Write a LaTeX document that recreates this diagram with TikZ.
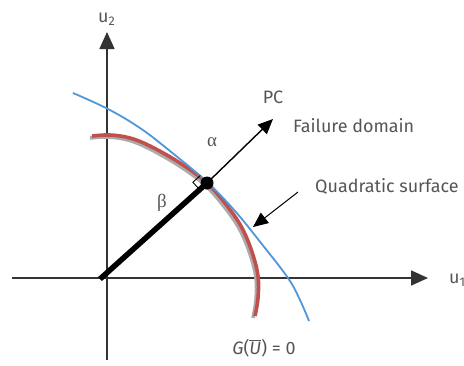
\documentclass[tikz,border=0pt]{standalone}
\usepackage{fontspec}
\setmainfont{Fira Sans}
\newfontfamily\greekfont{Liberation Serif}
\usetikzlibrary{arrows.meta, positioning, calc}
\definecolor{axisgray}{HTML}{333333}
\definecolor{textgray}{HTML}{555555}
\definecolor{limitblue}{HTML}{5096D8}
\definecolor{quadred}{HTML}{C0504D}
\definecolor{shadowgray}{HTML}{ABABAB}
\tikzset{
  axis/.style={draw=axisgray, line width=1.6bp, -{Triangle[length=17bp,width=15bp]}},
  lbl/.style={text=textgray, font=\fontsize{18}{21}\selectfont, inner sep=0pt},
  greek/.style={text=textgray, font=\greekfont\fontsize{19}{22}\selectfont, inner sep=0pt},
  pointer/.style={draw=black, line width=1.4bp, -{Triangle[length=15bp,width=13bp]}},
  limitcurve/.style={draw=limitblue, line width=1.8bp},
  quadcurve/.style={draw=quadred, line width=3.6bp},
  shadowcurve/.style={draw=shadowgray, line width=3.6bp},
  betaline/.style={draw=black, line width=5.5bp},
  designpt/.style={circle, fill=black, minimum size=13bp, inner sep=0pt},
}
\begin{document}
\begin{tikzpicture}[x=1bp, y=-1bp]
\useasboundingbox (0,0) rectangle (464,365);
% axes
\coordinate (x0) at (12,278);
\coordinate (x1) at (428,278);
\coordinate (y0) at (107,360);
\coordinate (y1) at (107,32);
\draw[axis] (x0) -- (x1);
\draw[axis] (y0) -- (y1);
\node[lbl, anchor=west] (u1) at (449,280) {u\textsubscript{1}};
\node[lbl, anchor=west] (u2) at (98,19) {u\textsubscript{2}};
% limit state and quadratic surface
\draw[shadowcurve, shift={(-2,2)}] plot[smooth, tension=0.6] coordinates {(92,136) (110,135) (130,138) (150,146) (180,163) (207,183) (228,207) (242,228) (252,252) (258,276) (258,298) (255,316)};
\draw[quadcurve] plot[smooth, tension=0.6] coordinates {(92,136) (110,135) (130,138) (150,146) (180,163) (207,183) (228,207) (242,228) (252,252) (258,276) (258,298) (255,316)};
\draw[limitcurve] plot[smooth, tension=0.6] coordinates {(73,93) (108,109) (140,128) (170,151) (207,182) (235,211) (261,243) (288,278) (300,300) (309,321)};
% design point
\coordinate (b0) at (100,279);
\node[designpt] (dp) at (207,183) {};
\draw[betaline] (b0) -- (dp.center);
\coordinate (pctip) at (273,119);
\draw[pointer] (dp.center) -- (pctip);
\coordinate (ra) at ($(dp.center)!10bp!(b0)$);
\coordinate (rc) at ($(dp.center)!10bp!-90:(b0)$);
\draw[black, line width=0.9bp] (ra) -- ($(ra)+(rc)-(dp.center)$) -- (rc);
% labels
\node[lbl] (pc) at (273,97) {PC};
\node[lbl, anchor=west] (fd) at (293,126) {Failure domain};
\node[lbl, anchor=west] (qs) at (315,186) {Quadratic surface};
\coordinate (qstail) at (298,192);
\coordinate (qstip) at (253,227);
\draw[pointer, line width=1bp] (qstail) -- (qstip);
\node[greek] (alpha) at (212,142) {α};
\node[greek] (beta) at (162,203) {β};
\node[lbl] (gu) at (264,348) {\textit{G}($\overline{\hbox{\textit{U}}}$) = 0};
\end{tikzpicture}
\end{document}
